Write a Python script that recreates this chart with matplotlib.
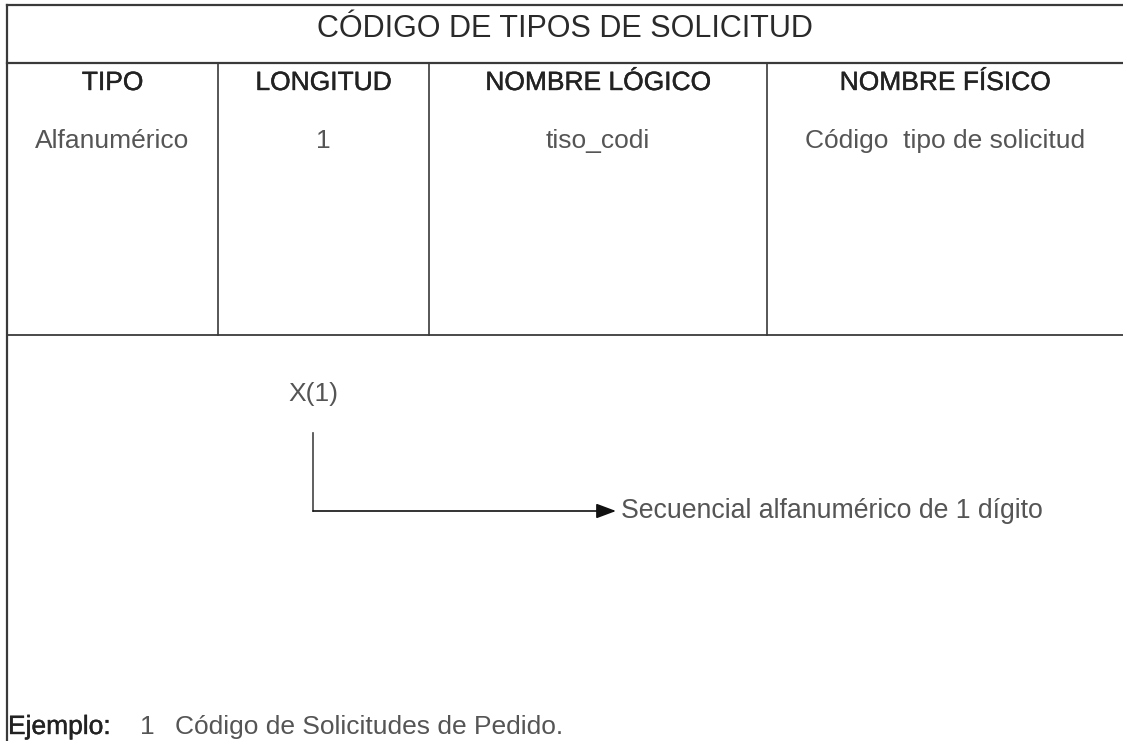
import matplotlib

matplotlib.use("Agg")
import matplotlib.patheffects as pe
import matplotlib.pyplot as plt

plt.rcParams["font.family"] = ["Liberation Sans", "DejaVu Sans"]

TITLE = "CÓDIGO DE TIPOS DE SOLICITUD"
HEADERS = ["TIPO", "LONGITUD", "NOMBRE LÓGICO", "NOMBRE FÍSICO"]
VALUES = ["Alfanumérico", "1", "tiso_codi", "Código  tipo de solicitud"]
FORMAT_LABEL = "X(1)"
FORMAT_NOTE = "Secuencial alfanumérico de 1 dígito"
EXAMPLE_LABEL = "Ejemplo:"
EXAMPLE_CODE = "1"
EXAMPLE_TEXT = "Código de Solicitudes de Pedido."

# layout in pixel units of the 1123x741 canvas
W, H = 1123, 741
LEFT, TOP = 7, 5
TITLE_BOTTOM = 63
ROW_BOTTOM = 335
COL_EDGES = [LEFT, 218, 429, 767, W]
LINE = "#3a3a3a"
BOLDISH = [pe.withStroke(linewidth=0.3, foreground="#222222")]


def main() -> None:
    fig = plt.figure(figsize=(W / 100, H / 100), dpi=100)
    ax = fig.add_axes([0, 0, 1, 1])
    ax.set_xlim(0, W)
    ax.set_ylim(H, 0)
    ax.axis("off")

    # frame
    ax.plot([LEFT, W], [TOP, TOP], color=LINE, lw=1.6)
    ax.plot([LEFT, LEFT], [TOP, H], color=LINE, lw=1.6)
    ax.plot([LEFT, W], [TITLE_BOTTOM, TITLE_BOTTOM], color=LINE, lw=1.6)
    ax.plot([LEFT, W], [ROW_BOTTOM, ROW_BOTTOM], color=LINE, lw=1.3)
    for x in COL_EDGES[1:-1]:
        ax.plot([x, x], [TITLE_BOTTOM, ROW_BOTTOM], color=LINE, lw=1.2)

    ax.text((LEFT + W) / 2, 29, TITLE, ha="center", va="center", fontsize=22, color="#2a2a2a")

    for i, (head, val) in enumerate(zip(HEADERS, VALUES)):
        cx = (COL_EDGES[i] + COL_EDGES[i + 1]) / 2
        ax.text(cx, 83, head, ha="center", va="center", fontsize=19, color="#222222",
                path_effects=BOLDISH)
        ax.text(cx, 141, val, ha="center", va="center", fontsize=19, color="#555555")

    # format diagram
    ax.text(313, 394, FORMAT_LABEL, ha="center", va="center", fontsize=19, color="#555555")
    ax.plot([313, 313], [433, 511], color="#444444", lw=1.2)
    ax.annotate(
        "",
        xy=(616, 511),
        xytext=(313, 511),
        arrowprops=dict(arrowstyle="-|>,head_length=1.2,head_width=0.45", color="#111111", lw=1.2,
                        shrinkA=0, shrinkB=0),
    )
    ax.text(621, 511, FORMAT_NOTE, ha="left", va="center", fontsize=19.2, color="#555555")

    # example line
    ax.text(8, 727, EXAMPLE_LABEL, ha="left", va="center", fontsize=19, color="#222222",
            path_effects=BOLDISH)
    ax.text(147, 727, EXAMPLE_CODE, ha="center", va="center", fontsize=19, color="#555555")
    ax.text(175, 727, EXAMPLE_TEXT, ha="left", va="center", fontsize=19, color="#555555")

    fig.savefig("out.png", dpi=100)
    plt.close(fig)


if __name__ == "__main__":
    main()
